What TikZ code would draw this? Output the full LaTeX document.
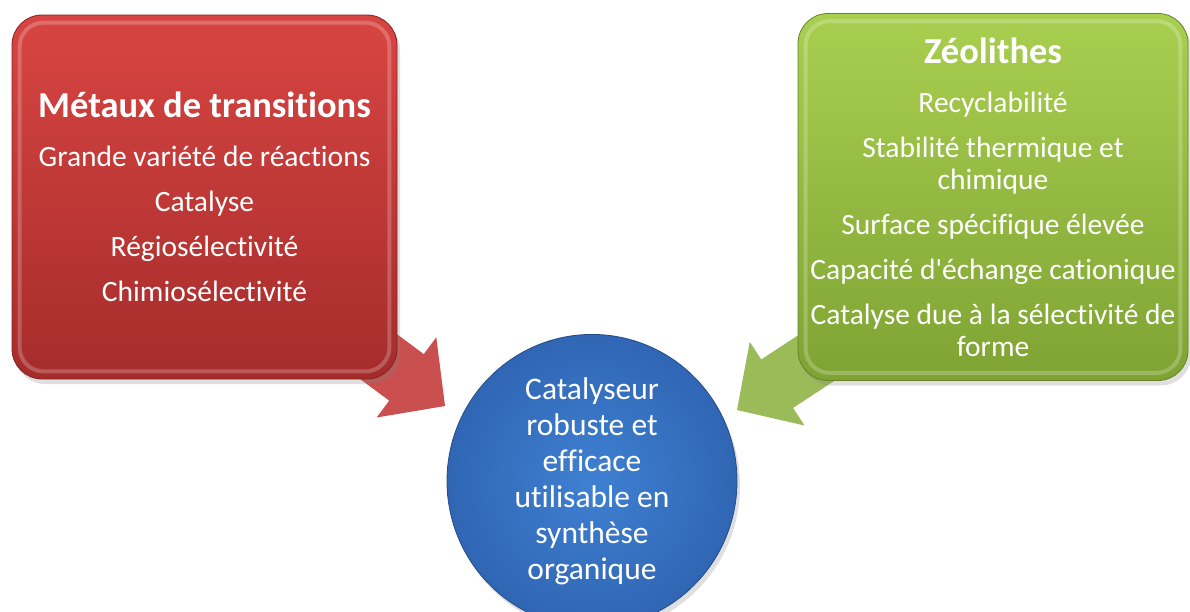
\documentclass[tikz,border=0pt]{standalone}
\usepackage{fontspec}
\setmainfont[Ligatures=NoCommon]{Carlito}
\usepackage{xcolor}
\usetikzlibrary{positioning,calc,shapes.geometric,shadows,backgrounds}

\definecolor{redtop}{HTML}{D84542}
\definecolor{redbot}{HTML}{A52C2B}
\definecolor{greentop}{HTML}{A9CF50}
\definecolor{greenbot}{HTML}{7FA333}
\definecolor{bluein}{HTML}{3F80D2}
\definecolor{blueout}{HTML}{3066B4}
\definecolor{redarrowfill}{HTML}{C9504E}
\definecolor{greenarrowfill}{HTML}{9BBB59}

\begin{document}
\begin{tikzpicture}[
    x=1pt, y=-1pt,
    box/.style={draw, rounded corners=30pt, line width=0.8pt, inner sep=0pt, align=center, text=white,
        font=\fontsize{29.5}{32}\selectfont,
        drop shadow={opacity=0.25, shadow xshift=3pt, shadow yshift=-5pt}},
    bevel/.style={draw=white, draw opacity=0.22, line width=4pt, rounded corners=24pt},
    blockarrow/.style={to path={
        ($(\tikztostart)!29pt!90:(\tikztotarget)$)
        -- ($(\tikztotarget)!48pt!(\tikztostart)!29pt!90:(\tikztotarget)$)
        -- ($(\tikztotarget)!48pt!(\tikztostart)!50pt!90:(\tikztotarget)$)
        -- (\tikztotarget)
        -- ($(\tikztotarget)!48pt!(\tikztostart)!50pt!-90:(\tikztotarget)$)
        -- ($(\tikztotarget)!48pt!(\tikztostart)!29pt!-90:(\tikztotarget)$)
        -- ($(\tikztostart)!29pt!-90:(\tikztotarget)$) -- cycle}},
]
    \useasboundingbox (0,0) rectangle (1190,611);

    % the two families of catalysts
    \node[box, draw=redbot!80!black, top color=redtop, bottom color=redbot,
        minimum width=385pt, minimum height=364pt] (metaux) at (204.5,197)
        {{\bfseries\fontsize{36.5}{40}\selectfont Métaux de transitions}\\[17pt]
         Grande variété de réactions\\[13pt]
         Catalyse\\[13pt]
         Régiosélectivité\\[13pt]
         Chimiosélectivité};
    \node[box, draw=greenbot!80!black, top color=greentop, bottom color=greenbot,
        minimum width=390pt, minimum height=367pt] (zeolithes) at (993,197)
        {{\bfseries\fontsize{36.5}{40}\selectfont Zéolithes}\\[17pt]
         Recyclabilité\\[13pt]
         Stabilité thermique et\\chimique\\[13pt]
         Surface spécifique élevée\\[13pt]
         Capacité d\textquotesingle échange cationique\\[13pt]
         Catalyse due à la sélectivité de\\forme};

    % result
    \node[ellipse, draw=blueout!75!black, line width=0.8pt, inner color=bluein, outer color=blueout,
        minimum width=290pt, minimum height=248pt, inner sep=0pt, align=center, text=white,
        font=\fontsize{31.5}{36}\selectfont,
        drop shadow={opacity=0.25, shadow xshift=3pt, shadow yshift=-5pt}] (catalyseur) at (592,481)
        {Catalyseur\\robuste et\\efficace\\utilisable en\\synthèse\\organique};

    % bevels
    \draw[bevel] ([shift={(8pt,-8pt)}]metaux.north west) rectangle ([shift={(-8pt,8pt)}]metaux.south east);
    \draw[bevel] ([shift={(8pt,-8pt)}]zeolithes.north west) rectangle ([shift={(-8pt,8pt)}]zeolithes.south east);

    % arrows
    \coordinate (redfrom) at ([xshift=40pt, yshift=-60pt]metaux.center);
    \coordinate (redtip) at (445,406);
    \coordinate (greenfrom) at ([xshift=-47pt, yshift=-76pt]zeolithes.center);
    \coordinate (greentip) at (737,410);
    \begin{scope}[on background layer]
        \fill[redarrowfill] (redfrom) to[blockarrow] (redtip);
        \fill[greenarrowfill] (greenfrom) to[blockarrow] (greentip);
    \end{scope}
\end{tikzpicture}
\end{document}
